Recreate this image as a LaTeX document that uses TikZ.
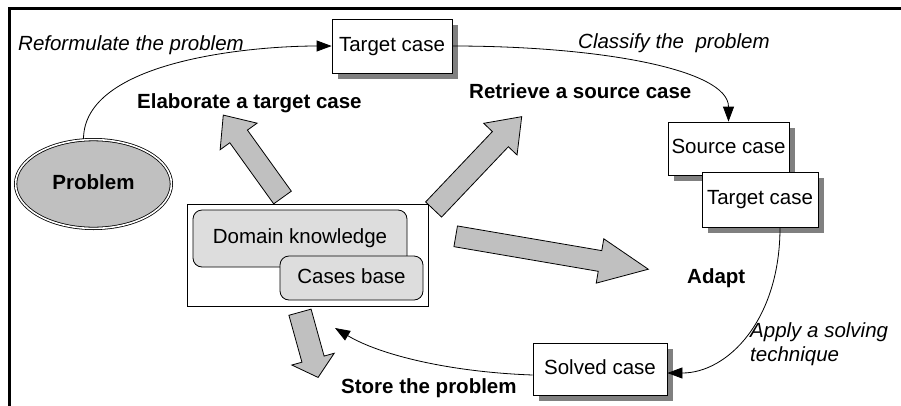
\documentclass[tikz,border=0pt]{standalone}
\usepackage{fontspec}
\setmainfont{Liberation Sans}
\usetikzlibrary{arrows.meta,shapes.geometric,shadows,calc}
\definecolor{fillgray}{HTML}{C0C0C0}
\definecolor{lightfill}{HTML}{DDDDDD}
\definecolor{shadowgray}{HTML}{808080}
\newcommand\dfont{\fontsize{20.5pt}{24pt}\selectfont}
% x, y (tail centre), angle, length, shaft width, head width, head length
\newcommand\blkarrow[7]{%
  \begin{scope}[shift={(#1,#2)},rotate=#3]
    \draw[bigarrow] (0,-#5/2) -- ({#4-#7},-#5/2) -- ({#4-#7},-#6/2) -- (#4,0)
      -- ({#4-#7},#6/2) -- ({#4-#7},#5/2) -- (0,#5/2) -- cycle;
  \end{scope}}
\begin{document}
\begin{tikzpicture}[x=1pt,y=-1pt,
  every node/.style={font=\dfont},
  casebox/.style={draw, fill=white, line width=0.8pt, inner sep=0pt,
    text height=15pt, text depth=4.5pt,
    drop shadow={shadow xshift=6pt, shadow yshift=-6pt, fill=shadowgray, opacity=1}},
  roundbox/.style={draw, fill=lightfill, line width=0.8pt, rounded corners=9pt,
    inner sep=0pt, text height=15pt, text depth=4.5pt},
  bigarrow/.style={draw, fill=fillgray, line width=0.8pt, line join=miter},
  conn/.style={draw, line width=0.8pt, -{Triangle[length=15pt,width=11pt]}},
  lblit/.style={anchor=base west, inner sep=0pt, font=\dfont\itshape},
  lblbf/.style={anchor=base west, inner sep=0pt, font=\dfont\bfseries}]
\useasboundingbox (0,0) rectangle (901,405);

% frame
\draw[line width=2.8pt] (9.3,406) -- (9.3,8.8) -- (902,8.8);

% big block arrows
\blkarrow{282.5}{197.5}{125.7}{101.5}{21.7}{45.5}{26.3}
\blkarrow{433.6}{209.5}{46.5}{128}{22}{46}{31}
\blkarrow{455.7}{236.3}{-9.7}{195.4}{21}{45}{49}
\blkarrow{300}{312.2}{-74.5}{67.7}{23}{44}{19}

% knowledge box
\node[draw, fill=white, line width=0.8pt, minimum width=241pt, minimum height=102pt, inner sep=0pt] (kb) at (307.5,255) {};
\node[roundbox, minimum width=214pt, minimum height=57pt] (dk) at (300,238.5) {Domain knowledge};
\node[roundbox, minimum width=143pt, minimum height=44pt] (cb) at (351.5,278) {Cases base};

% problem
\node[ellipse, draw, double=white, double distance=1.6pt, line width=0.8pt, fill=fillgray,
  minimum width=155.8pt, minimum height=88.8pt, inner sep=0pt,
  text height=15pt, text depth=4.5pt, font=\dfont\bfseries] (problem) at (93.5,184) {Problem};

% case boxes
\node[casebox, minimum width=120pt, minimum height=54pt] (tc1) at (392,46) {Target case};
\node[casebox, minimum width=121pt, minimum height=53pt] (sc) at (728.5,148.5) {Source case};
\node[casebox, minimum width=116pt, minimum height=55pt] (tc2) at (760,199.5) {Target case};
\node[casebox, minimum width=134pt, minimum height=52pt] (solved) at (600,369) {Solved case};

% connectors
\coordinate (storeend) at (335,328);
\draw[conn] ($(problem.north)+(-10,0)$) .. controls +(0,-78) and +(-82,0) .. (tc1.west);
\draw[conn] (tc1.east) .. controls +(148,0) and +(0,-52) .. (sc.north);
\draw[conn] ($(tc2.south)+(20,0)$) .. controls +(0,93) and +(60,0) .. ($(solved.east)+(0,4)$);
\draw[conn] ($(solved.west)+(0,6)$) .. controls +(-83,-3) and +(45,27) .. (storeend);

% labels
\node[lblit] (reform) at (18,50) {Reformulate the problem};
\node[lblbf] (elab) at (137,108) {Elaborate a target case};
\node[lblit] (classify) at (578,48) {Classify the\ \ problem};
\node[lblbf] (retrieve) at (469,98) {Retrieve a source case};
\node[lblbf] (adapt) at (687,283) {Adapt};
\node[lblit] (apply1) at (750,337) {Apply a solving};
\node[lblit] (apply2) at (750,361) {technique};
\node[lblbf] (store) at (341,393) {Store the problem};
\end{tikzpicture}
\end{document}
